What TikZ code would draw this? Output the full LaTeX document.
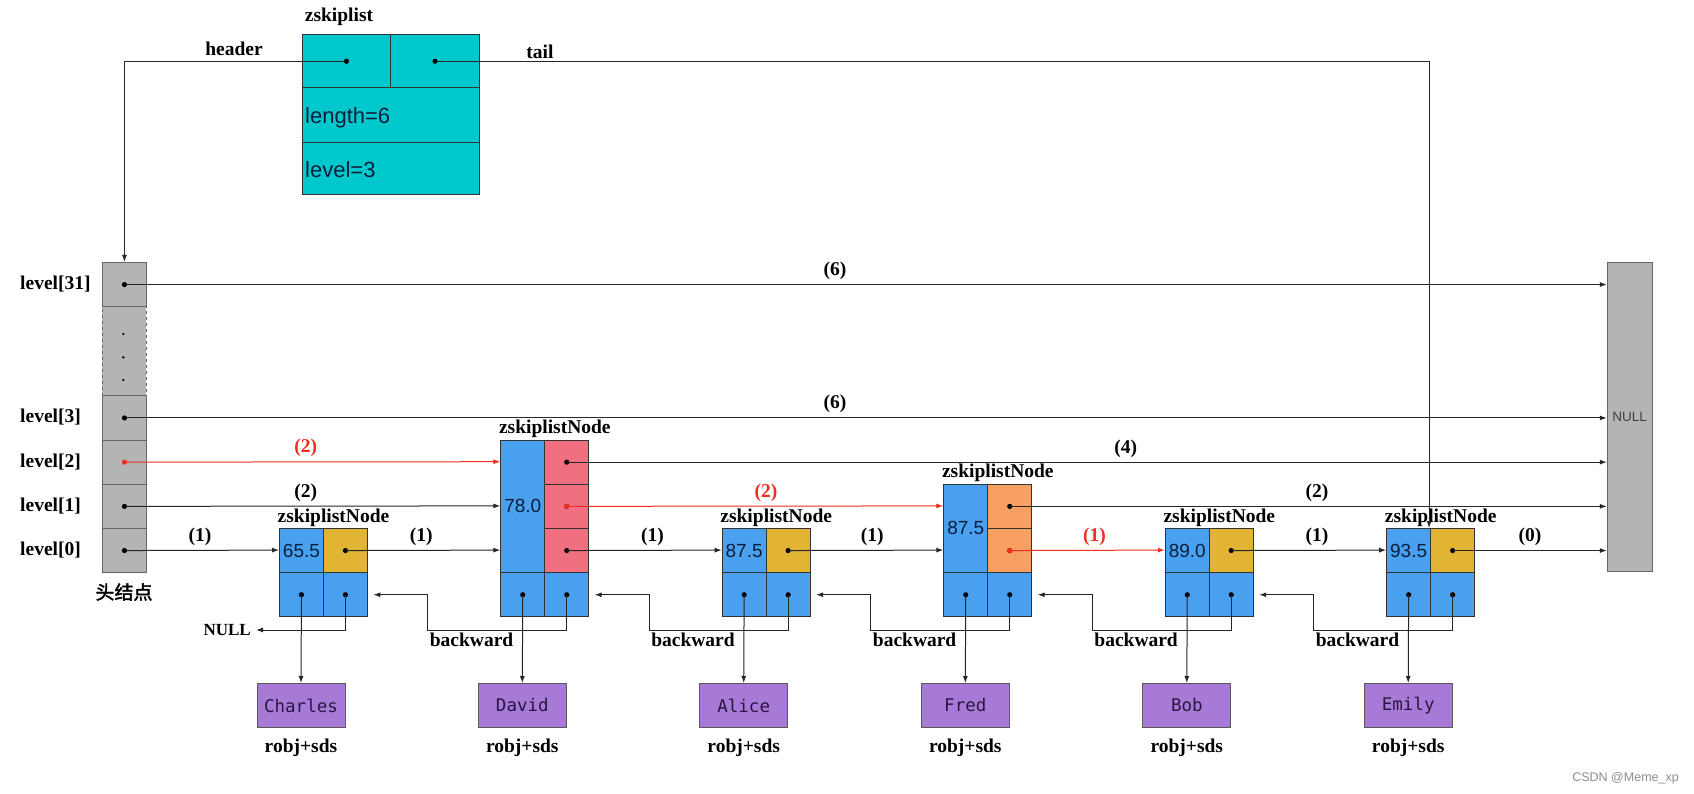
\documentclass[tikz,border=0pt]{standalone}
\usepackage{fontspec}
\setmainfont{Liberation Serif}
\newfontfamily\sansf{Liberation Sans}
\newfontfamily\monof{DejaVu Sans Mono}
\newfontfamily\cjkf[AutoFakeBold=2]{Noto Sans CJK SC}
\usetikzlibrary{arrows.meta,calc}

\definecolor{zcyan}{RGB}{0,200,204}
\definecolor{nblue}{RGB}{72,160,238}
\definecolor{ngold}{RGB}{226,180,52}
\definecolor{npink}{RGB}{240,112,130}
\definecolor{norange}{RGB}{248,160,98}
\definecolor{npurple}{RGB}{168,122,216}
\definecolor{hgray}{RGB}{180,180,180}
\definecolor{rline}{RGB}{240,45,30}
\definecolor{navy}{RGB}{10,30,60}
\definecolor{mtext}{RGB}{40,22,64}

\newcommand\numfont{\fontsize{19}{20}\sansf}
\newcommand\lblfont{\fontsize{19.5}{21}\selectfont\bfseries}

\tikzset{
  cell/.style={draw=black!80, line width=0.9pt, inner sep=0pt, minimum width=44pt,
    minimum height=44.2pt, anchor=north west},
  hcell/.style={cell, fill=hgray, draw=black!60},
  lbl/.style={font=\lblfont, inner sep=0pt},
  rlbl/.style={lbl, text=rline},
  arr/.style={draw=black!85, line width=1pt, -{Latex[length=7pt,width=5pt]}},
  rarr/.style={arr, draw=rline},
  objbox/.style={draw=black!65, line width=0.9pt, fill=npurple, minimum width=88pt,
    minimum height=44pt, anchor=north, inner sep=0pt,
    font=\fontsize{17.5}{18}\monof, text=mtext},
}

% #1 name, #2 left x, #3 number of levels, #4 score, #5 level colour, #6 object text
\newcommand\zsnode[6]{%
  \pgfmathsetmacro\ztop{528-(#3-1)*44.2}%
  \pgfmathsetmacro\zh{572.2-\ztop}%
  \node[cell, fill=nblue, minimum height=\zh pt, font=\numfont, text=navy] (#1-s) at (#2,\ztop) {#4};
  \pgfmathtruncatemacro\zn{#3-1}%
  \foreach \i in {0,...,\zn}{
    \node[cell, fill=#5] (#1-l\i) at ({#2+44},{528-\i*44.2}) {};
    \fill (#1-l\i.center) circle (2.6pt);
    \coordinate (#1-in\i) at (#2,{550.1-\i*44.2});
  }
  \node[cell, fill=nblue] (#1-b) at (#2,572.2) {};
  \node[cell, fill=nblue] (#1-f) at ({#2+44},572.2) {};
  \fill (#1-b.center) circle (2.6pt);
  \fill (#1-f.center) circle (2.6pt);
  \node[lbl, anchor=south west] (#1-lbl) at ({#2-1.5},{\ztop-1.5}) {zskiplistNode};
  \node[objbox] (#1-o) at ({#2+22},683) {#6};
  \node[lbl] (#1-r) at ({#2+22},748) {robj+sds};
  \draw[arr] (#1-b.center) -- (#1-o.north);
  \coordinate (#1-bk) at ({#2-72.6},630);
}

\begin{document}
\begin{tikzpicture}[x=1pt,y=-1pt]
\useasboundingbox[fill=white] (0,0) rectangle (1694,794);

% ---------- zskiplist ----------
\node[cell, fill=zcyan, minimum width=88.8pt, minimum height=53pt] (zsh) at (301.6,34.3) {};
\node[cell, fill=zcyan, minimum width=88.4pt, minimum height=53pt] (zst) at (390.4,34.3) {};
\node[cell, fill=zcyan, minimum width=177.2pt, minimum height=54.4pt] (zslen) at (301.6,87.3) {};
\node[cell, fill=zcyan, minimum width=177.2pt, minimum height=52.3pt] (zslvl) at (301.6,141.7) {};
\node[anchor=base west, inner sep=0pt, font=\fontsize{22}{24}\sansf, text=navy] (zslent) at (305,123.3) {length=6};
\node[anchor=base west, inner sep=0pt, font=\fontsize{22}{24}\sansf, text=navy] (zslvlt) at (305,177.5) {level=3};
\node[lbl] (zsname) at (339,16.7) {zskiplist};
\node[lbl] (hdrlbl) at (234,49.3) {header};
\node[lbl] (taillbl) at (540,51.7) {tail};

% ---------- head node column ----------
\node[hcell, dashed, minimum height=89.4pt] (hd) at (102,306) {};
\node[hcell] (h31) at (102,262) {};
\node[hcell] (h3) at (102,395.4) {};
\node[hcell] (h2) at (102,439.6) {};
\node[hcell] (h1) at (102,483.8) {};
\node[hcell] (h0) at (102,528) {};
\foreach \yy in {334,357.3,380} \fill (123.3,\yy) circle (1.3pt);
\node[lbl, anchor=west] (lv31) at (20,284) {level[31]};
\node[lbl, anchor=west] (lv3) at (20,417.5) {level[3]};
\node[lbl, anchor=west] (lv2) at (20,461.7) {level[2]};
\node[lbl, anchor=west] (lv1) at (20,505.9) {level[1]};
\node[lbl, anchor=west] (lv0) at (20,550.1) {level[0]};
\node[inner sep=0pt, font={\fontsize{19}{20}\cjkf\bfseries}] (headlbl) at (124,592) {头结点};

% ---------- NULL column ----------
\node[draw=black!60, fill=hgray, line width=0.9pt, minimum width=44.7pt, minimum height=309pt,
  anchor=north west, inner sep=0pt, font=\fontsize{13.5}{14}\sansf, text=black!75] (nullb) at (1606.8,262) {NULL};

% ---------- skiplist nodes ----------
\zsnode{n1}{279}{1}{65.5}{ngold}{Charles}
\zsnode{n2}{500.3}{3}{78.0}{npink}{David}
\zsnode{n3}{721.7}{1}{87.5}{ngold}{Alice}
\zsnode{n4}{943.3}{2}{87.5}{norange}{Fred}
\zsnode{n5}{1164.8}{1}{89.0}{ngold}{Bob}
\zsnode{n6}{1386.2}{1}{93.5}{ngold}{Emily}

% ---------- header / tail pointers ----------
\draw[arr] (zsh.center) -| (h31.north);
\draw[arr] (zst.center) -| ([xshift=-2pt]n6-s.north east);

% ---------- forward pointers ----------
\draw[arr] (h31.center) -- (nullb.west |- h31.center);
\draw[arr] (h3.center) -- (nullb.west |- h3.center);
\draw[rarr] (h2.center) -- (n2-in2);
\draw[arr] (n2-l2.center) -- (nullb.west |- n2-l2.center);
\draw[arr] (h1.center) -- (n2-in1);
\draw[rarr] (n2-l1.center) -- (n4-in1);
\draw[arr] (n4-l1.center) -- (nullb.west |- n4-l1.center);
\draw[arr] (h0.center) -- (n1-in0);
\draw[arr] (n1-l0.center) -- (n2-in0);
\draw[arr] (n2-l0.center) -- (n3-in0);
\draw[arr] (n3-l0.center) -- (n4-in0);
\draw[rarr] (n4-l0.center) -- (n5-in0);
\draw[arr] (n5-l0.center) -- (n6-in0);
\draw[arr] (n6-l0.center) -- (nullb.west |- n6-l0.center);

% dots
\foreach \h in {h31,h3,h1,h0} \fill (\h.center) circle (2.6pt);
\fill[rline] (h2.center) circle (2.6pt);
\fill[rline] (n2-l1.center) circle (2.6pt);
\fill[rline] (n4-l0.center) circle (2.6pt);
\fill (zsh.center) circle (2.6pt);
\fill (zst.center) circle (2.6pt);

% span labels
\node[lbl] (s31) at (835,271) {(6)};
\node[lbl] (s3) at (835,404) {(6)};
\node[rlbl] (s2a) at (305.7,448) {(2)};
\node[lbl] (s2b) at (1125.8,448.4) {(4)};
\node[lbl] (s1a) at (305.7,492.6) {(2)};
\node[rlbl] (s1b) at (766,492.6) {(2)};
\node[lbl] (s1c) at (1317,492.6) {(2)};
\node[lbl] (s0a) at (200,537) {(1)};
\node[lbl] (s0b) at (421.3,537) {(1)};
\node[lbl] (s0c) at (652.6,537) {(1)};
\node[lbl] (s0d) at (872.3,537) {(1)};
\node[rlbl] (s0e) at (1094.5,537) {(1)};
\node[lbl] (s0f) at (1317,537) {(1)};
\node[lbl] (s0g) at (1530,537) {(0)};

% ---------- backward pointers ----------
\node[lbl, anchor=east, font=\fontsize{17}{18}\selectfont\bfseries] (nlbl) at (251,630) {NULL};
\draw[arr] (n1-f.center) |- ([xshift=5pt]nlbl.east);
\foreach \c/\p in {n2/n1,n3/n2,n4/n3,n5/n4,n6/n5}{
  \draw[arr] (\c-f.center) |- (\c-bk) |- ([xshift=5.5pt]\p-f.east);
  \node[lbl, anchor=west] (\c-bkl) at ($(\c-bk)+(2,10)$) {backward};
}

\node[anchor=east, inner sep=0pt, font=\fontsize{12.5}{13}\sansf, text=black!45] (wm) at (1679,778) {CSDN @Meme\_xp};
\end{tikzpicture}
\end{document}
